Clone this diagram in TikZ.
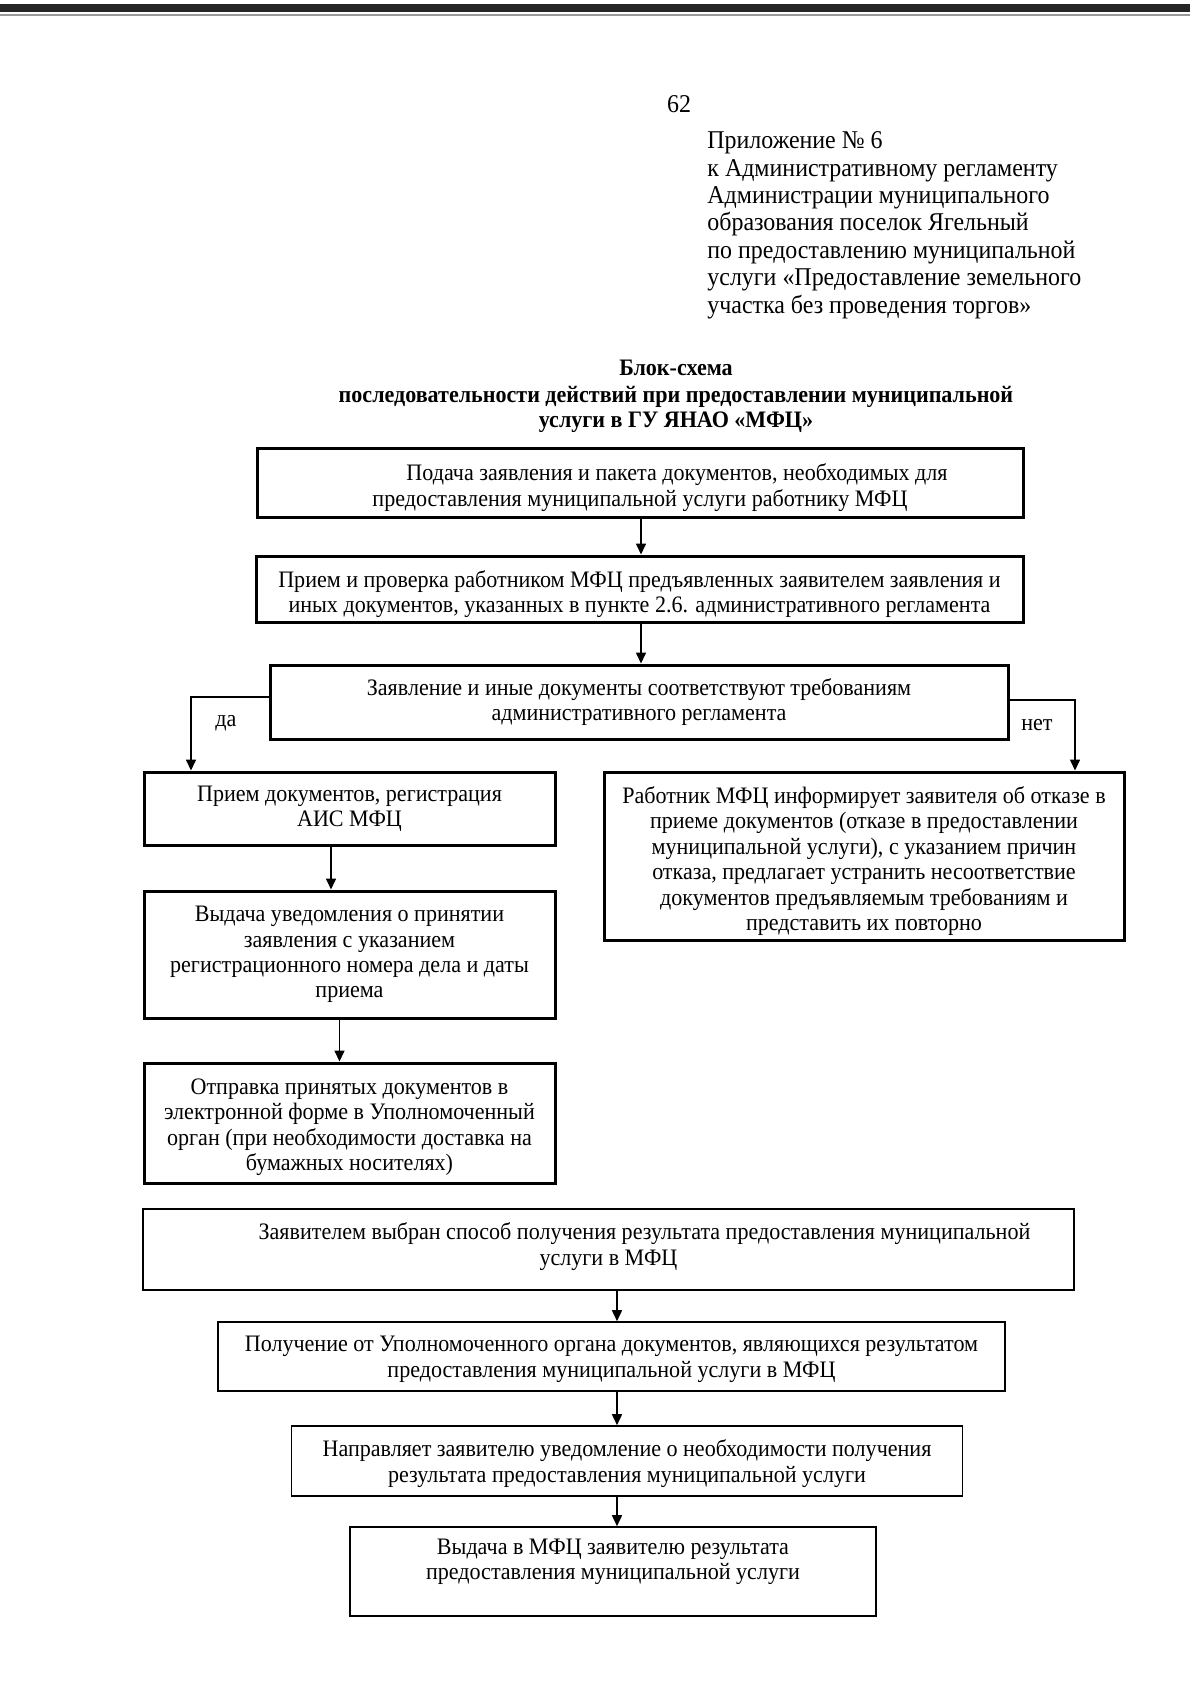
\documentclass[tikz,border=0pt]{standalone}
\usepackage{fontspec}
\setmainfont{Liberation Serif}[FakeStretch=0.935]
\usetikzlibrary{arrows.meta,calc}
\newcommand\boxfont{\fontsize{11.8}{12.7}\selectfont}
\newcommand\headfont{\fontsize{12.8}{13.75}\selectfont}
\newcommand\ttlfont{\fontsize{11.8}{13}\selectfont\bfseries}
\tikzset{
  thickbox/.style={draw, line width=1.5pt, inner sep=0pt},
  thinbox/.style={draw, line width=0.8pt, inner sep=0pt},
  boxtext/.style={inner sep=0pt, align=center, font=\boxfont},
  arr/.style={line width=0.8pt, -{Triangle[length=5.5pt,width=5pt]}},
  head/.style={anchor=base west, inner sep=0pt, font=\headfont},
  ttl/.style={anchor=base, inner sep=0pt, font=\ttlfont},
  lbl/.style={anchor=center, inner sep=0pt, font=\boxfont},
}
\begin{document}
\begin{tikzpicture}[x=0.5pt, y=-0.5pt]
\useasboundingbox[fill=white] (0,0) rectangle (1190,1683);
% scan band at the top
\fill[black!85] (0,4) rectangle (1190,12);
\draw[black!40, line width=0.6pt] (0,15) -- (1190,15);

% header
\node[anchor=base, inner sep=0pt, font=\headfont] (pg) at (679,112) {62};
\node[head] (h1) at (707,148) {Приложение № 6};
\node[head] (h2) at (707,176) {к Административному регламенту};
\node[head] (h3) at (707,203) {Администрации муниципального};
\node[head] (h4) at (707,230) {образования поселок Ягельный};
\node[head] (h5) at (707,258) {по предоставлению муниципальной};
\node[head] (h6) at (707,285) {услуги «Предоставление земельного};
\node[head] (h7) at (707,313) {участка без проведения торгов»};

\node[ttl] (t1) at (676,375) {Блок-схема};
\node[ttl] (t2) at (676,402) {последовательности действий при предоставлении муниципальной};
\node[ttl] (t3) at (676,427) {услуги в ГУ ЯНАО «МФЦ»};

% boxes
\node[thickbox, minimum width=383pt, minimum height=34.5pt] (b1) at (640,482.5) {};
\node[boxtext] (b1t) at ([yshift=-2.5pt]b1.center)
  {\hspace*{37pt}Подача заявления и пакета документов, необходимых для\\предоставления муниципальной услуги работнику МФЦ};
\node[thickbox, minimum width=383.5pt, minimum height=33pt] (b2) at (639.5,589) {};
\node[boxtext] (b2t) at ([yshift=-2.5pt]b2.center)
  {Прием и проверка работником МФЦ предъявленных заявителем заявления и\\иных документов, указанных в пункте 2.6. административного регламента};
\node[thickbox, minimum width=369pt, minimum height=37pt] (b3) at (639,702) {};
\node[boxtext] (b3t) at (b3.center)
  {Заявление и иные документы соответствуют требованиям\\административного регламента};
\node[thickbox, minimum width=205.5pt, minimum height=36.5pt] (bA) at (349.5,808.5) {};
\node[boxtext] (bAt) at (bA.center)
  {Прием документов, регистрация\\АИС МФЦ};
\node[thickbox, minimum width=260pt, minimum height=84pt] (bR) at (864,856) {};
\node[boxtext] (bRt) at ([yshift=-2.5pt]bR.center)
  {Работник МФЦ информирует заявителя об отказе в\\приеме документов (отказе в предоставлении\\муниципальной услуги), с указанием причин\\отказа, предлагает устранить несоответствие\\документов предъявляемым требованиям и\\представить их повторно};
\node[thickbox, minimum width=205.5pt, minimum height=63.5pt] (bB) at (349.5,954.5) {};
\node[boxtext] (bBt) at (bB.center)
  {Выдача уведомления о принятии\\заявления с указанием\\регистрационного номера дела и даты\\приема};
\node[thickbox, minimum width=205.5pt, minimum height=60pt] (bC) at (349.5,1123) {};
\node[boxtext] (bCt) at ([yshift=-2.2pt]bC.center)
  {Отправка принятых документов в\\электронной форме в Уполномоченный\\орган (при необходимости доставка на\\бумажных носителях)};
\node[thinbox, minimum width=465.5pt, minimum height=40.5pt] (bD) at (608.5,1249.5) {};
\node[boxtext] (bDt) at ([yshift=1.5pt]bD.center)
  {\hspace*{36pt}Заявителем выбран способ получения результата предоставления муниципальной\\услуги в МФЦ};
\node[thinbox, minimum width=393.5pt, minimum height=34.5pt] (bE) at (611.5,1356.5) {};
\node[boxtext] (bEt) at ([yshift=-1.3pt]bE.center)
  {Получение от Уполномоченного органа документов, являющихся результатом\\предоставления муниципальной услуги в МФЦ};
\node[thinbox, minimum width=335.5pt, minimum height=35pt] (bF) at (627,1461) {};
\node[boxtext] (bFt) at ([yshift=-1.3pt]bF.center)
  {Направляет заявителю уведомление о необходимости получения\\результата предоставления муниципальной услуги};
\node[thinbox, minimum width=263pt, minimum height=44.5pt] (bG) at (613,1571.5) {};
\node[boxtext] (bGt) at ([yshift=5pt]bG.center)
  {Выдача в МФЦ заявителю результата\\предоставления муниципальной услуги};

% vertical axes
\coordinate (ax1) at (641,0);
\coordinate (ax2) at (617,0);
\coordinate (axA) at (331,0);
\coordinate (axB) at (339.5,0);
\coordinate (axL) at (191,0);
\coordinate (axR) at (1075,0);

% connectors
\draw[arr] (b1.south -| ax1) -- (b2.north -| ax1);
\draw[arr] (b2.south -| ax1) -- (b3.north -| ax1);
\draw[arr] ([yshift=2.5pt]b3.west) -| (bA.north -| axL);
\draw[arr] ([yshift=1pt]b3.east) -| (bR.north -| axR);
\draw[arr] (bA.south -| axA) -- (bB.north -| axA);
\draw[arr] (bB.south -| axB) -- (bC.north -| axB);
\draw[arr] (bD.south -| ax2) -- (bE.north -| ax2);
\draw[arr] (bE.south -| ax2) -- (bF.north -| ax2);
\draw[arr] (bF.south -| ax2) -- (bG.north -| ax2);

% branch labels
\node[lbl] (yes) at (226,723) {да};
\node[lbl] (no) at (1037,725) {нет};
\end{tikzpicture}
\end{document}
